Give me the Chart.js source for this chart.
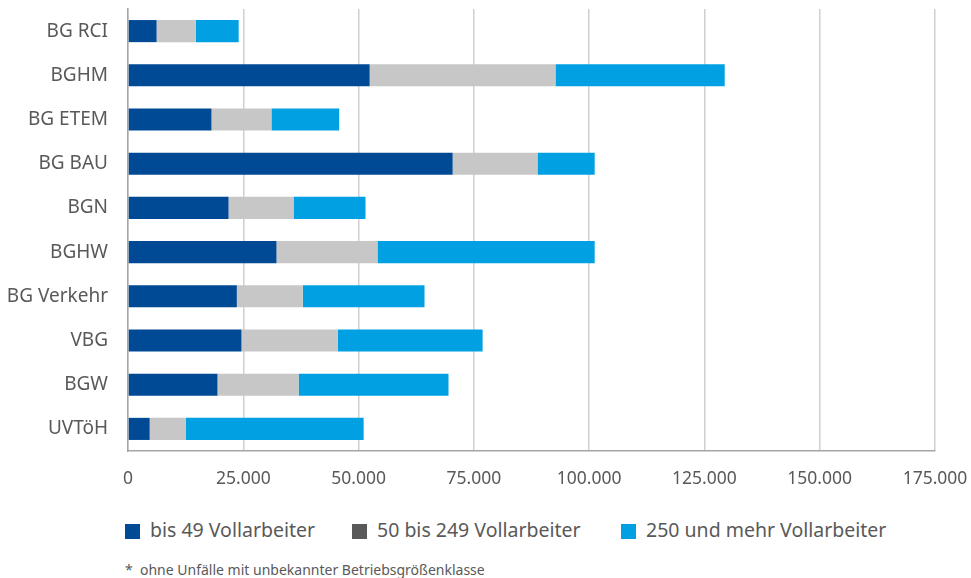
<!DOCTYPE html>
<html>
<head>
<meta charset="utf-8">
<script src="https://cdn.jsdelivr.net/npm/chart.js@4/dist/chart.umd.min.js"></script>
<style>
  body { margin: 0; background: #fff; font-family: "Noto Sans", sans-serif; color: #595959; }
  #wrap { position: relative; width: 971px; height: 578px; }
  #box { position: absolute; left: 0; top: 0; width: 971px; height: 500px; }
  .sw { position: absolute; top: 524px; width: 15px; height: 15px; }
  .txt { position: absolute; top: 519px; font-size: 19.5px; line-height: 22px; white-space: nowrap; }
  #note { position: absolute; left: 125px; top: 562px; font-size: 14px; line-height: 16px; white-space: nowrap; }
</style>
</head>
<body>
<div id="wrap">
  <div id="box"><canvas id="cht"></canvas></div>
  <div id="legend"></div>
  <div id="note">*&nbsp; ohne Unfälle mit unbekannter Betriebsgrößenklasse</div>
</div>
<script>
var labels = ['BG RCI', 'BGHM', 'BG ETEM', 'BG BAU', 'BGN', 'BGHW', 'BG Verkehr', 'VBG', 'BGW', 'UVTöH'];
var klein = [6200, 52400, 18100, 70400, 21800, 32200, 23600, 24600, 19400, 4700];
var mittel = [8500, 40300, 13000, 18400, 14100, 21900, 14300, 20900, 17600, 7800];
var gross = [9300, 36700, 14700, 12400, 15600, 47100, 26400, 31400, 32500, 38600];
var names = ['bis 49 Vollarbeiter', '50 bis 249 Vollarbeiter', '250 und mehr Vollarbeiter'];

var barColours = ['#004994', '#c6c7c6', '#00a0e3'];
var legendColours = ['#004994', '#595959', '#00a0e3'];
var legendLeft = [125, 352, 621];

function fmt(v) {
    return String(v).replace(/\B(?=(\d{3})+(?!\d))/g, '.');
}

var legend = document.getElementById('legend');
names.forEach(function (n, i) {
    var sw = document.createElement('div');
    sw.className = 'sw';
    sw.style.left = legendLeft[i] + 'px';
    sw.style.background = legendColours[i];
    legend.appendChild(sw);
    var t = document.createElement('div');
    t.className = 'txt';
    t.style.left = (legendLeft[i] + 25) + 'px';
    t.textContent = n;
    legend.appendChild(t);
});

var series = [klein, mittel, gross];
var datasets = series.map(function (s, i) {
    return { label: names[i], data: s, backgroundColor: barColours[i], borderWidth: 0,
             barPercentage: 0.5, categoryPercentage: 1 };
});

new Chart(document.getElementById('cht'), {
    type: 'bar',
    data: { labels: labels, datasets: datasets },
    options: {
        indexAxis: 'y',
        responsive: true,
        maintainAspectRatio: false,
        animation: false,
        layout: { padding: { top: 9, right: 36, left: 0, bottom: 0 } },
        plugins: { legend: { display: false }, tooltip: { enabled: false } },
        scales: {
            x: {
                stacked: true,
                min: 0,
                max: 175000,
                ticks: { stepSize: 25000, color: '#595959', padding: 18,
                         font: { family: 'Noto Sans', size: 17.5 },
                         callback: function (v) { return fmt(v); } },
                grid: { color: '#d0d0d0', lineWidth: 1.5, drawTicks: false },
                border: { color: '#a6a6a6', width: 1.5 },
                afterFit: function (s) { s.height = 49; s.paddingLeft = 0; s.paddingRight = 0; }
            },
            y: {
                stacked: true,
                ticks: { color: '#595959', padding: 20, font: { family: 'Noto Sans', size: 19 } },
                grid: { color: 'rgba(0,0,0,0)', drawTicks: false },
                border: { color: '#a6a6a6', width: 1.5 },
                afterFit: function (s) { s.width = 128; s.paddingTop = 0; s.paddingBottom = 0; }
            }
        }
    }
});
</script>
</body>
</html>
